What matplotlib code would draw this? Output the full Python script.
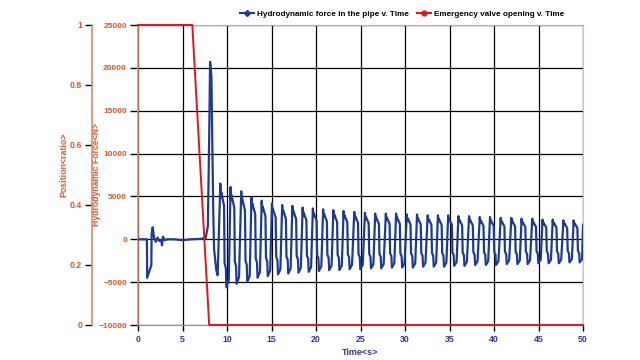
import matplotlib
matplotlib.use("Agg")
import numpy as np
from matplotlib import pyplot as plt
from matplotlib.lines import Line2D

plt.rcParams["font.family"] = ["Liberation Sans", "DejaVu Sans"]
plt.rcParams["font.weight"] = "bold"
plt.rcParams["axes.labelweight"] = "bold"

# valve opening (position ratio) against time
valve_t = [0.0, 6.1, 8.0, 50.0]
valve_pos = [1.0, 1.0, 0.0, 0.0]

# hydrodynamic force: start-up and closing surge, read point by point
surge_t = [0.0, 1.0, 1.03, 1.5, 1.53, 1.65, 1.8, 1.9, 2.0, 2.2, 2.4, 2.6, 2.7, 2.8,
           3.0, 3.3, 4.0, 5.0, 6.0, 7.0, 7.6, 7.85, 8.0, 8.1, 8.25, 8.45, 8.55, 8.8, 8.95]
surge_f = [0, 0, -4500, -3000, 600, 1400, 200, 0, -300, 200, -200, -100, -700, 300,
           -100, 0, 0, -100, 0, 50, 150, 1500, 12000, 20700, 19000, 3500, -1200, -3600, -4200]

# oscillation after closing: one peak and one trough per cycle
peak_t = [9.25, 10.4, 11.6, 12.75, 13.9, 15.05, 16.2, 17.35, 18.5, 19.65, 20.8, 21.95,
          23.1, 24.3, 25.5, 26.65, 27.85, 29.0, 30.2, 31.35, 32.55, 33.7, 34.85, 36.0,
          37.2, 38.4, 39.55, 40.75, 41.95, 43.1, 44.3, 45.45, 46.6, 47.8, 48.95]
peak_f = [6500, 6100, 5600, 4900, 4500, 4200, 4000, 3900, 3700, 3600, 3500, 3400,
          3300, 3200, 3100, 3000, 3000, 3000, 2900, 2900, 2800, 2800, 2800, 2700,
          2700, 2600, 2600, 2500, 2500, 2400, 2400, 2300, 2300, 2200, 2200]
trough_f = [-5600, -5200, -5000, -4500, -4300, -4100, -4000, -3900, -3800, -3700, -3600, -3600,
            -3500, -3500, -3400, -3400, -3300, -3300, -3300, -3200, -3200, -3200, -3100, -3100,
            -3000, -3000, -3000, -2900, -2900, -2900, -2800, -2800, -2800, -2700, -2700]
end_t, end_f = 50.0, 1700

# waveform of one cycle: (time after peak, share of peak or trough)
cycle_shape = [(0.0, "p", 1.0), (0.05, "p", 0.75), (0.1, "p", 0.85), (0.42, "p", 0.6),
               (0.48, "t", 0.5), (0.62, "t", 0.6), (0.68, "t", 1.0), (0.95, "t", 0.85)]

force_t = list(surge_t)
force_f = list(surge_f)
for tp, fp, ft in zip(peak_t, peak_f, trough_f):
    for dt, kind, share in cycle_shape:
        force_t.append(tp + dt)
        force_f.append(share * (fp if kind == "p" else ft))
force_t.append(end_t)
force_f.append(end_f)

orange = "#e2552b"
spine_orange = "#d98b6b"
navy = "#1f3a93"
red = "#e3141b"
xblue = "#2e3a8c"

fig = plt.figure(figsize=(6.4, 3.6), dpi=100)
ax = fig.add_axes([138 / 640, 1 - 325 / 360, 445 / 640, 300 / 360])
ax.plot(force_t, force_f, color=navy, lw=1.6, zorder=3)
ax.set_xlim(0, 50)
ax.set_ylim(-10000, 25000)
ax.set_xticks(np.arange(0, 51, 5))
ax.set_yticks(np.arange(-10000, 25001, 5000))
ax.grid(True, color="black", lw=0.9)
ax.tick_params(axis="y", colors="black", labelcolor=orange, labelsize=6.0, length=6, width=1, pad=2)
ax.tick_params(axis="x", colors="black", labelcolor=xblue, labelsize=6.3, length=4, width=1, pad=3)
ax.spines["left"].set_color(spine_orange)
ax.spines["left"].set_linewidth(1.2)
ax.spines["bottom"].set_color("#8890c8")
ax.spines["right"].set_color("#c8c8c8")
ax.spines["top"].set_color("#b0b0b0")
ax.set_xlabel("Time<s>", color=xblue, fontsize=6.5, labelpad=3)
ax.set_ylabel("Hydrodynamic Force<N>", color=orange, fontsize=6.2)
ax.yaxis.set_label_coords((101 - 138) / 445, 0.5)

ax2 = ax.twinx()
ax2.plot(valve_t, valve_pos, color=red, lw=1.4, zorder=4, clip_on=False)
ax2.set_ylim(0, 1)
ax2.yaxis.set_ticks_position("left")
ax2.yaxis.set_label_position("left")
ax2.spines["left"].set_position(("axes", (92 - 138) / 445))
ax2.spines["left"].set_color(spine_orange)
ax2.spines["left"].set_linewidth(1.2)
for s in ["right", "top", "bottom"]:
    ax2.spines[s].set_visible(False)
ax2.set_yticks([0, 0.2, 0.4, 0.6, 0.8, 1.0])
ax2.set_yticklabels(["0", "0.2", "0.4", "0.6", "0.8", "1"])
ax2.tick_params(axis="y", colors="black", labelcolor=orange, labelsize=6.3, length=5, width=1, pad=2)
ax2.set_ylabel("Position<ratio>", color=orange, fontsize=6.3)
ax2.yaxis.set_label_coords((68 - 138) / 445, 0.535)

handles = [
    Line2D([], [], color=navy, lw=1.5, marker="D", markersize=3),
    Line2D([], [], color=red, lw=1.5, marker="o", markersize=3.5),
]
labels = ["Hydrodynamic force in the pipe v. Time", "Emergency valve opening v. Time"]
fig.legend(handles, labels, loc="center", bbox_to_anchor=(402 / 640, 1 - 14 / 360), ncol=2,
           frameon=False, fontsize=5.9, handlelength=1.7, handletextpad=0.4, columnspacing=1.0)

fig.savefig("out.png", dpi=100)
